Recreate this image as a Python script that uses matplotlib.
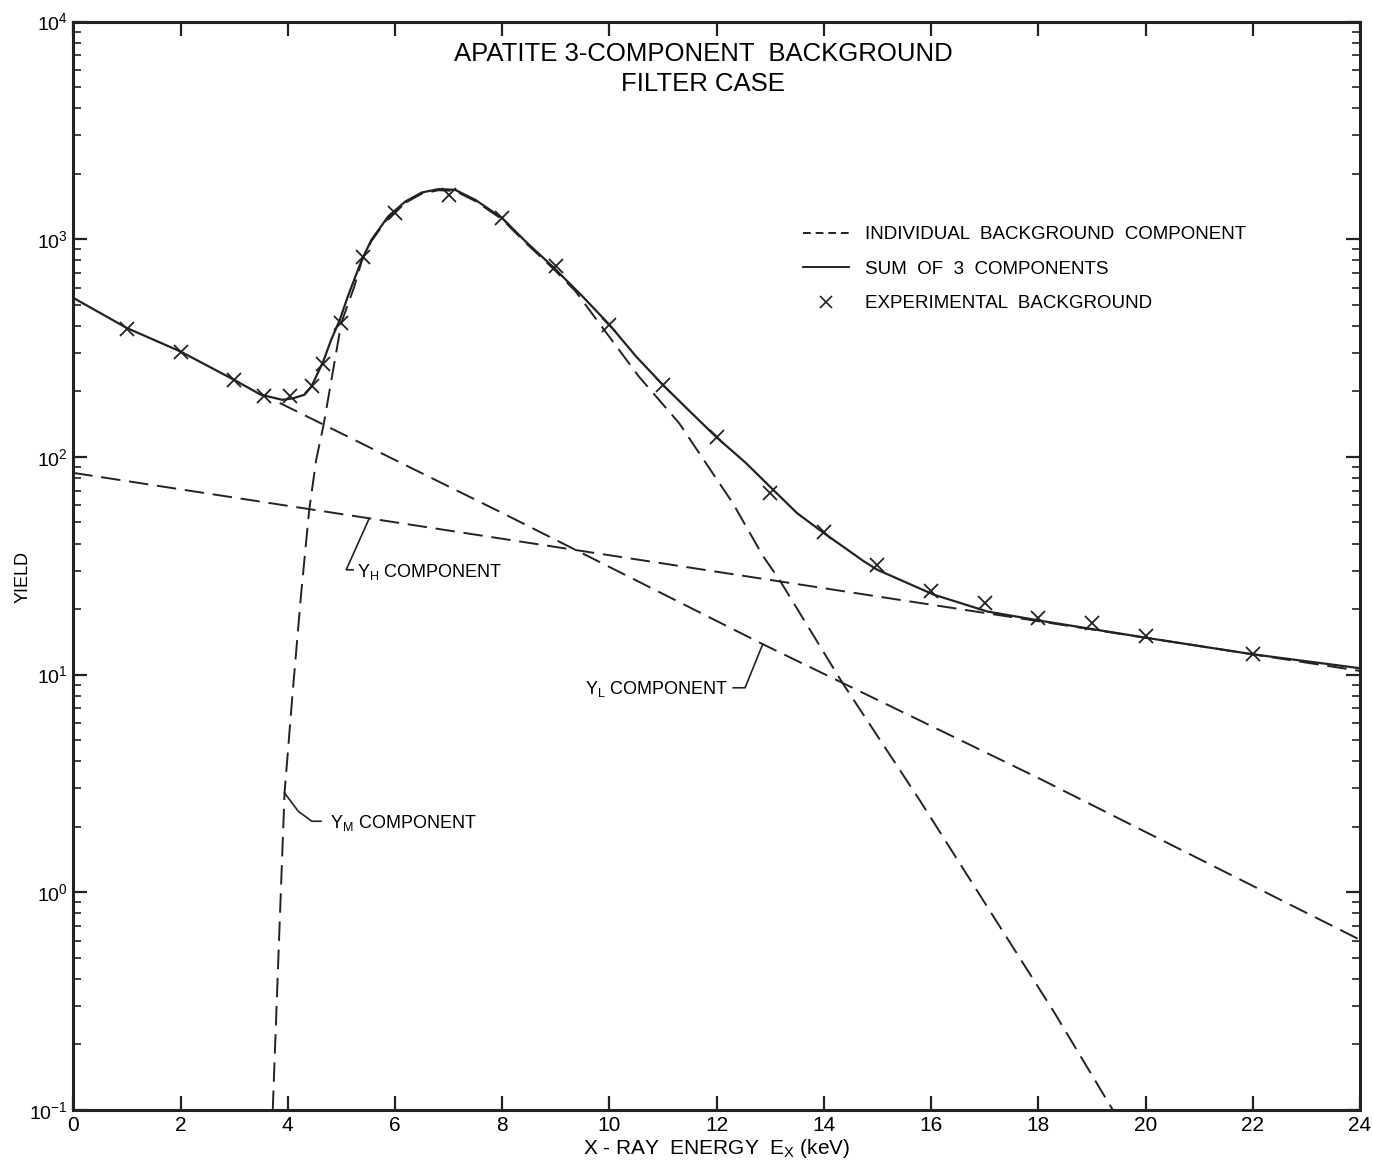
import numpy as np
import matplotlib
matplotlib.use("Agg")
import matplotlib.pyplot as plt
from matplotlib.lines import Line2D
from matplotlib.ticker import LogLocator, NullFormatter, FixedLocator

# experimental background points (x marks)
exp_energy = [1, 2, 3, 3.55, 4.05, 4.45, 4.65, 5.0, 5.4, 6, 7, 8, 9, 10, 11, 12,
              13, 14, 15, 16, 17, 18, 19, 20, 22]
exp_yield = [388, 304, 226, 191, 190, 211, 268, 414, 833, 1318, 1600, 1251, 750,
             405, 214, 123, 68.3, 45.4, 31.9, 24.3, 21.3, 18.2, 17.3, 15.0, 12.5]

# sum of the three components (solid curve)
sum_energy = [0, 1, 2, 3, 3.5, 3.9, 4.1, 4.31, 4.44, 4.56, 4.66, 4.81, 4.97, 5.12,
              5.38, 5.56, 5.87, 6.19, 6.5, 6.81, 7.12, 7.5, 8.0, 8.44, 8.94, 9.5,
              10.0, 10.5, 11.0, 11.5, 12.0, 12.55, 13.02, 13.5, 14.0, 14.75, 15.0,
              16.05, 17.05, 18.03, 20.06, 22.0, 24.0]
sum_yield = [538, 391, 305, 226, 193, 183, 186, 193, 210, 243, 274, 345, 426, 546,
             803, 993, 1271, 1489, 1640, 1700, 1688, 1517, 1251, 975, 750, 546,
             405, 289, 214, 162, 123, 93.6, 72, 55.2, 44.7, 33.1, 30.3,
             23.3, 19.5, 17.7, 14.7, 12.4, 10.7]

# Y_L component
yl_energy = [3.85, 8, 12.86, 18, 24]
yl_yield = [177, 55.3, 13.8, 3.35, 0.605]

# Y_H component
yh_energy = [0, 6, 12, 18, 24]
yh_yield = [84.5, 50.1, 29.7, 17.6, 10.4]

# Y_M component
ym_energy = [3.72, 3.83, 3.94, 4.09, 4.25, 4.4, 4.53, 4.67, 5.0, 5.24, 5.38, 5.56,
             5.87, 6.19, 6.5, 6.81, 7.12, 7.5, 8.0, 8.44, 8.94, 9.36, 10.55, 11.3,
             12.3, 12.87, 13.17, 14.33, 15.8, 18.3, 19.39]
ym_yield = [0.1, 0.54, 2.86, 8.2, 23.6, 57, 97, 141, 414, 605, 795, 980, 1255, 1470,
            1620, 1680, 1668, 1497, 1235, 962, 738, 580, 234, 143, 61.4, 34.9,
            27.3, 9.3, 2.62, 0.28, 0.1]

xtick_vals = list(range(0, 25, 2))
ytick_vals = [0.1, 1, 10, 100, 1000, 10000]
ytick_labels = [r"$\mathregular{10^{-1}}$", r"$\mathregular{10^{0}}$",
                r"$\mathregular{10^{1}}$", r"$\mathregular{10^{2}}$",
                r"$\mathregular{10^{3}}$", r"$\mathregular{10^{4}}$"]

plt.rcParams['font.family'] = ['Liberation Sans', 'DejaVu Sans']
plt.rcParams['mathtext.fontset'] = 'custom'
plt.rcParams['mathtext.rm'] = 'Liberation Sans'

fig = plt.figure(figsize=(13.73, 11.68), dpi=100)
ax = fig.add_axes([0.0534, 0.0497, 0.9371, 0.9318])

ink = '#222222'
dash = (10, 4.5)
ax.plot(sum_energy, sum_yield, color=ink, lw=1.6)
ax.plot(yl_energy, yl_yield, color=ink, lw=1.4, dashes=dash)
ax.plot(yh_energy, yh_yield, color=ink, lw=1.4, dashes=dash)
ax.plot(ym_energy, ym_yield, color=ink, lw=1.4, dashes=dash)
ax.plot(exp_energy, exp_yield, ls='none', marker='x', ms=10, mew=1.3, color=ink)

ax.set_yscale('log')
ax.set_xlim(0, 24)
ax.set_ylim(0.1, 1e4)
ax.xaxis.set_major_locator(FixedLocator(xtick_vals))
ax.set_xticklabels([str(v) for v in xtick_vals], fontsize=15)
ax.yaxis.set_major_locator(FixedLocator(ytick_vals))
ax.set_yticklabels(ytick_labels, fontsize=14)
ax.yaxis.set_minor_locator(LogLocator(base=10, subs=np.arange(2, 10)))
ax.yaxis.set_minor_formatter(NullFormatter())
ax.tick_params(which='major', direction='in', top=True, right=True,
               length=10, width=1.6, color=ink, pad=4)
ax.tick_params(which='minor', direction='in', left=True, right=True,
               length=6, width=1.2, color=ink)
for sp in ax.spines.values():
    sp.set_linewidth(2.2)
    sp.set_color(ink)

ax.set_xlabel(r"X - RAY  ENERGY  E$\mathregular{_X}$ (keV)", fontsize=15, labelpad=2)
fig.text(0.017, 1 - 577 / 1168, "YIELD", rotation=90, fontsize=13,
         ha='center', va='center')

ax.text(0.4895, 0.970, "APATITE 3-COMPONENT  BACKGROUND", transform=ax.transAxes,
        ha='center', va='center', fontsize=18.5)
ax.text(0.4895, 0.943, "FILTER CASE", transform=ax.transAxes,
        ha='center', va='center', fontsize=18.5)

# legend
handles = [Line2D([], [], color=ink, lw=1.4, dashes=(4, 2.5)),
           Line2D([], [], color=ink, lw=1.4),
           Line2D([], [], color=ink, ls='none', marker='x', ms=8, mew=1.2)]
labels = ["INDIVIDUAL  BACKGROUND  COMPONENT", "SUM  OF  3  COMPONENTS",
          "EXPERIMENTAL  BACKGROUND"]
ax.legend(handles, labels, loc='upper left', bbox_to_anchor=(0.567, 0.812),
          frameon=False, fontsize=13.5, handlelength=2.45, handletextpad=0.85,
          labelspacing=0.92, borderpad=0, borderaxespad=0)

# component labels with leader lines
yh_anchor = (5.52, 10 ** np.interp(5.52, yh_energy, np.log10(yh_yield)))
ax.plot([yh_anchor[0], 5.09, 5.22], [yh_anchor[1], 30.3, 30.3], color=ink, lw=1.2)
ax.text(5.3, 29.5, r"$\mathregular{Y_H}$ COMPONENT", fontsize=13, ha='left', va='center')

yl_anchor = (12.86, 10 ** np.interp(12.86, yl_energy, np.log10(yl_yield)))
ax.plot([12.31, 12.53, yl_anchor[0]], [8.7, 8.7, yl_anchor[1]], color=ink, lw=1.2)
ax.text(12.22, 8.6, r"$\mathregular{Y_L}$ COMPONENT", fontsize=13, ha='right', va='center')

ym_anchor = (3.94, 10 ** np.interp(3.94, ym_energy, np.log10(ym_yield)))
ax.plot([ym_anchor[0], 4.2, 4.45, 4.62], [ym_anchor[1], 2.35, 2.12, 2.12],
        color=ink, lw=1.2)
ax.text(4.78, 2.08, r"$\mathregular{Y_M}$ COMPONENT", fontsize=13, ha='left', va='center')

fig.savefig("out.png", dpi=100)
